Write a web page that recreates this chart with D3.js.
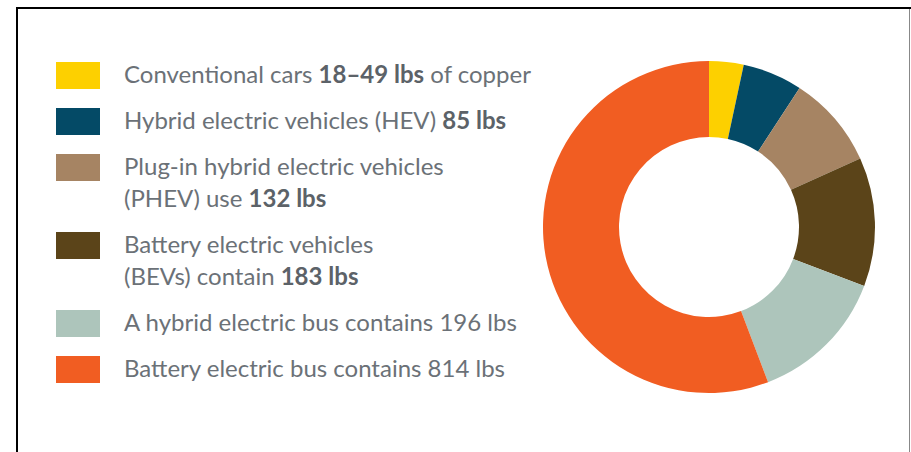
<!DOCTYPE html>
<html>
<head>
<meta charset="utf-8">
<script src="https://d3js.org/d3.v7.min.js"></script>
<style>
  body { margin: 0; background: #fff; }
  svg { display: block; }
  .legend text {
    font-family: 'Lato', sans-serif;
    font-size: 24px;
    fill: #6b7177;
  }
  .legend .strong { font-weight: 700; fill: #5c6268; }
</style>
</head>
<body>
<div id="chart"></div>
<script>
  // copper content per vehicle type (lbs)
  var categories = ["Conventional cars", "HEV", "PHEV", "BEV", "Hybrid electric bus", "Battery electric bus"];
  var values = [49, 85, 132, 183, 196, 814];
  var palette = ["#fdd000", "#044a66", "#a68463", "#5b4419", "#adc5bb", "#f15d22"];

  // legend lines: each line is a list of [text, bold]
  var labelLines = [
    [[["Conventional cars ", 0], ["18–49 lbs", 1], [" of copper", 0]]],
    [[["Hybrid electric vehicles (HEV) ", 0], ["85 lbs", 1]]],
    [[["Plug-in hybrid electric vehicles", 0]], [["(PHEV) use ", 0], ["132 lbs", 1]]],
    [[["Battery electric vehicles", 0]], [["(BEVs) contain ", 0], ["183 lbs", 1]]],
    [[["A hybrid electric bus contains 196 lbs", 0]]],
    [[["Battery electric bus contains 814 lbs", 0]]]
  ];

  var width = 911, height = 452;

  var svg = d3.select("#chart")
    .append("svg")
    .attr("width", width)
    .attr("height", height);

  // frame
  svg.append("line").attr("x1", 16).attr("x2", 911).attr("y1", 8).attr("y2", 8)
    .style("stroke", "#000").style("stroke-width", 2);
  svg.append("line").attr("x1", 17).attr("x2", 17).attr("y1", 7).attr("y2", height)
    .style("stroke", "#000").style("stroke-width", 2);
  svg.append("line").attr("x1", 909.5).attr("x2", 909.5).attr("y1", 9).attr("y2", height)
    .style("stroke", "#888").style("stroke-width", 1);

  var color = d3.scaleOrdinal().domain(categories).range(palette);

  // donut
  var pie = d3.pie().sort(null).value(d => d.value);
  var arc = d3.arc().innerRadius(90).outerRadius(166);

  var data = categories.map((c, i) => ({ name: c, value: values[i] }));

  svg.append("g")
    .attr("transform", "translate(709,227)")
    .selectAll("path")
    .data(pie(data))
    .enter()
    .append("path")
    .attr("d", arc)
    .style("fill", d => color(d.data.name));

  // legend
  var legend = svg.append("g").attr("class", "legend");
  var baseline = 83;
  labelLines.forEach(function (lines, i) {
    var item = legend.append("g");
    item.append("rect")
      .attr("x", 56)
      .attr("y", baseline - 21)
      .attr("width", 44)
      .attr("height", 27)
      .style("fill", color(categories[i]));
    lines.forEach(function (segs, j) {
      var t = item.append("text")
        .attr("x", 124)
        .attr("y", baseline);
      segs.forEach(function (s) {
        t.append("tspan")
          .attr("class", s[1] ? "strong" : null)
          .text(s[0]);
      });
      if (j < lines.length - 1) baseline += 32;
    });
    baseline += 46;
  });
</script>
</body>
</html>
